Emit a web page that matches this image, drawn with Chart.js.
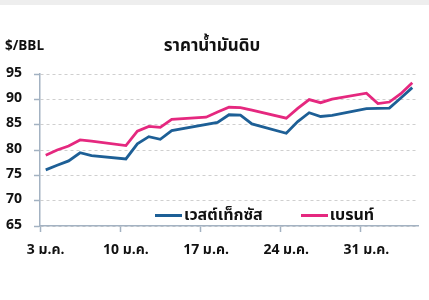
<!DOCTYPE html>
<html><head><meta charset="utf-8">
<script src="https://cdn.jsdelivr.net/npm/chart.js@4"></script>
<style>
html,body{margin:0;padding:0;background:#fff;}
#wrap{position:relative;width:429px;height:300px;overflow:hidden;background:#fff;}
#band{position:absolute;left:0;top:0;width:429px;height:5px;background:#eeeeee;}
#c{position:absolute;left:0;top:0;}
.t{position:absolute;font-family:"Noto Sans Thai","Noto Sans","Liberation Sans",sans-serif;font-weight:bold;color:#111;white-space:nowrap;line-height:1;}
#title{left:0;width:424px;text-align:center;top:38px;font-size:17px;}
#unit{left:5px;top:40px;font-size:13.5px;}
#legend{position:absolute;top:203px;left:155px;display:flex;align-items:center;font-family:"Noto Sans Thai","Noto Sans","Liberation Sans",sans-serif;font-weight:bold;font-size:16px;color:#111;white-space:nowrap;}
.li{display:flex;align-items:center;margin-right:38px;}
.sw{display:inline-block;width:27px;height:3px;margin-right:2px;}
</style></head>
<body>
<div id="wrap">
<div id="band"></div>
<canvas id="c" width="429" height="300"></canvas>
<div class="t" id="title">ราคาน้ำมันดิบ</div>
<div class="t" id="unit">$/BBL</div>
<div id="legend"></div>
</div>
<script>
const dates = [3,4,5,6,7,10,11,12,13,14,17,18,19,20,21,24,25,26,27,28,31,32,33,34,35];
const wti   = [76.08,76.99,77.85,79.46,78.90,78.23,81.22,82.64,82.12,83.82,null,85.43,86.96,86.90,85.14,83.31,85.60,87.35,86.61,86.82,88.15,88.20,88.26,90.27,92.31];
const brent = [78.98,80.00,80.80,81.99,81.75,80.87,83.72,84.67,84.47,86.06,86.48,87.51,88.44,88.38,87.89,86.27,88.20,89.96,89.34,90.03,91.21,89.16,89.47,91.11,93.27];
const seriesNames = ['เวสต์เท็กซัส','เบรนท์'];
const tickDays = [3,10,17,24,31];
const tickLabels = ['3 ม.ค.','10 ม.ค.','17 ม.ค.','24 ม.ค.','31 ม.ค.'];
const yTicks = [65,70,75,80,85,90,95];

const FONT = '"Noto Sans Thai","Noto Sans","Liberation Sans",sans-serif';
const AXIS = '#a3b2c2';
const colors = ['#1d5f96','#e5287f'];

const toPts = arr => dates.map((d,i)=>({x:d, y:arr[i]}));

const chart = new Chart(document.getElementById('c'), {
  type:'line',
  data:{datasets:[
    {label:seriesNames[0], data:toPts(wti), borderColor:colors[0], backgroundColor:colors[0], borderWidth:2.8, pointRadius:0, tension:0, spanGaps:true},
    {label:seriesNames[1], data:toPts(brent), borderColor:colors[1], backgroundColor:colors[1], borderWidth:2.8, pointRadius:0, tension:0, spanGaps:true}
  ]},
  options:{
    responsive:false, animation:false, devicePixelRatio:1,
    layout:{padding:{top:74,right:11,bottom:0,left:0}},
    plugins:{legend:{display:false}, title:{display:false}, tooltip:{enabled:false}},
    scales:{
      x:{type:'linear', min:dates[0]-0.5, max:dates[dates.length-1]+0.5,
        afterBuildTicks:s=>{s.ticks = tickDays.map(d=>({value:d-0.5}));},
        afterFit:s=>{s.height = 74;},
        ticks:{callback:(v,i)=>tickLabels[i], labelOffset:5.7, padding:11, maxRotation:0, autoSkip:false, color:'#111', font:{family:FONT, size:14, weight:'bold'}},
        grid:{drawOnChartArea:false, tickLength:6, tickColor:AXIS, tickWidth:1.5},
        border:{color:AXIS, width:1.5}
      },
      y:{min:65, max:95,
        afterBuildTicks:s=>{s.ticks = yTicks.map(v=>({value:v}));},
        afterFit:s=>{s.width = 40;},
        ticks:{padding:12, color:'#111', font:{family:FONT, size:14, weight:'bold'}},
        grid:{color:'#cfcfcf', lineWidth:1, tickLength:6, tickColor:AXIS, tickWidth:1.5},
        border:{color:AXIS, width:1.5, dash:[3,3]}
      }
    }
  }
});

const lg = document.getElementById('legend');
chart.data.datasets.forEach(ds=>{
  const it = document.createElement('span'); it.className='li';
  const sw = document.createElement('span'); sw.className='sw'; sw.style.background = ds.borderColor;
  const tx = document.createElement('span'); tx.textContent = ds.label;
  it.appendChild(sw); it.appendChild(tx); lg.appendChild(it);
});
</script>
</body></html>
